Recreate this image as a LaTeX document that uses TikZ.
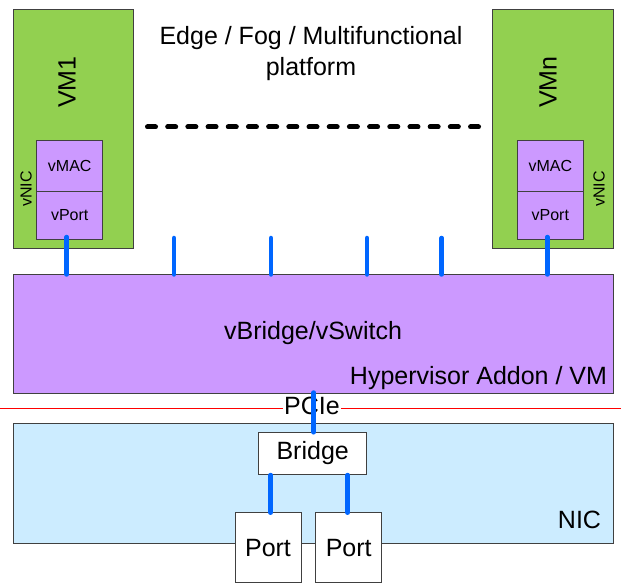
\documentclass[tikz,border=0pt]{standalone}
\usepackage{fontspec}
\setmainfont{Liberation Sans}
\begin{document}
\begin{tikzpicture}[x=1pt,y=-1pt,
  box/.style={draw=black!75, line width=0.8pt, rectangle, inner sep=0pt, outer sep=0pt},
  vm/.style={box, fill=vmgreen},
  vbox/.style={box, fill=vpurple, font=\fontsize{16}{18}\selectfont},
  wbox/.style={box, fill=white, font=\fontsize{25}{28}\selectfont},
  big/.style={font=\fontsize{25}{28}\selectfont},
  link/.style={draw=linkblue, line width=4.5pt, line cap=round},
  lbl/.style={inner sep=0pt, outer sep=0pt}]
\definecolor{vmgreen}{HTML}{92D050}
\definecolor{vpurple}{HTML}{CC99FF}
\definecolor{linkblue}{HTML}{0066FF}
\definecolor{nicblue}{HTML}{CCECFF}
\useasboundingbox (0,0) rectangle (621,585);
% title
\node[lbl, align=center, font=\fontsize{25}{31}\selectfont] (title) at (311,53.5) {Edge / Fog / Multifunctional\\platform};
% dots
\draw[line width=5pt, line cap=round, dash pattern=on 8pt off 12.19pt, black] (147.5,127) -- (478.5,127);
% VM1
\node[vm, anchor=north west, minimum width=120, minimum height=239] (vm1) at (13,9) {};
\node[lbl, rotate=90, big] (vm1t) at (67,82) {VM1};
\node[vbox, anchor=north west, minimum width=66, minimum height=51] (mac1) at (36.7,140) {vMAC};
\node[vbox, anchor=north west, minimum width=66, minimum height=48] (vp1) at (36.7,191) {vPort};
\node[lbl, rotate=90, font=\fontsize{16}{18}\selectfont] (nic1) at (26,189) {vNIC};
% VMn
\node[vm, anchor=north west, minimum width=120.6, minimum height=239] (vmn) at (492.7,9) {};
\node[lbl, rotate=90, big] (vmnt) at (548,82) {VMn};
\node[vbox, anchor=north west, minimum width=66, minimum height=51] (macn) at (517.3,140) {vMAC};
\node[vbox, anchor=north west, minimum width=66, minimum height=48] (vpn) at (517.3,191) {vPort};
\node[lbl, rotate=90, font=\fontsize{16}{18}\selectfont] (nicn) at (599,189) {vNIC};
% switch
\node[box, fill=vpurple, anchor=north west, minimum width=600, minimum height=119] (sw) at (13,274.5) {};
\node[lbl, big] (swt) at (313,333) {vBridge/vSwitch};
\node[lbl, anchor=east, big] (hyp) at (607,378) {Hypervisor Addon / VM};
% links VM to switch
\coordinate (c1) at (174,238);
\coordinate (c2) at (271,238);
\coordinate (c3) at (367,238);
\coordinate (c4) at (441.6,238);
\draw[link] ([xshift=-3pt,yshift=2pt]vp1.south) -- ([xshift=-3pt]vp1.south |- sw.north);
\draw[link] ([xshift=-3pt,yshift=2pt]vpn.south) -- ([xshift=-3pt]vpn.south |- sw.north);
\foreach \c in {c1,c2,c3,c4} {\draw[link] (\c) -- (\c |- sw.north);}
% red line
\coordinate (rl) at (0,408);
\coordinate (rr) at (621,408);
\draw[red, line width=0.8pt] (rl) -- (rr);
% NIC
\node[box, fill=nicblue, anchor=north west, minimum width=600, minimum height=120] (nic) at (13,423) {};
\node[lbl, anchor=east, big] (nict) at (601,519.5) {NIC};
% bridge & ports
\node[wbox, anchor=north west, minimum width=108, minimum height=42] (br) at (258.7,432.3) {Bridge};
\node[wbox, anchor=north west, minimum width=66, minimum height=70] (p1) at (235,512.7) {Port};
\node[wbox, anchor=north west, minimum width=66, minimum height=70] (p2) at (315.7,512.7) {Port};
% PCIe
\node[lbl, fill=white, inner xsep=1pt, inner ysep=1pt, big] (pcie) at (312,406) {PCIe};
\draw[link] ([xshift=1pt,yshift=1pt]br.north |- sw.south) -- ([xshift=1pt]br.north);
\draw[link] (270.7,475) coordinate (b1) -- (b1 |- p1.north);
\draw[link] (347.7,475) coordinate (b2) -- (b2 |- p2.north);
\end{tikzpicture}
\end{document}
